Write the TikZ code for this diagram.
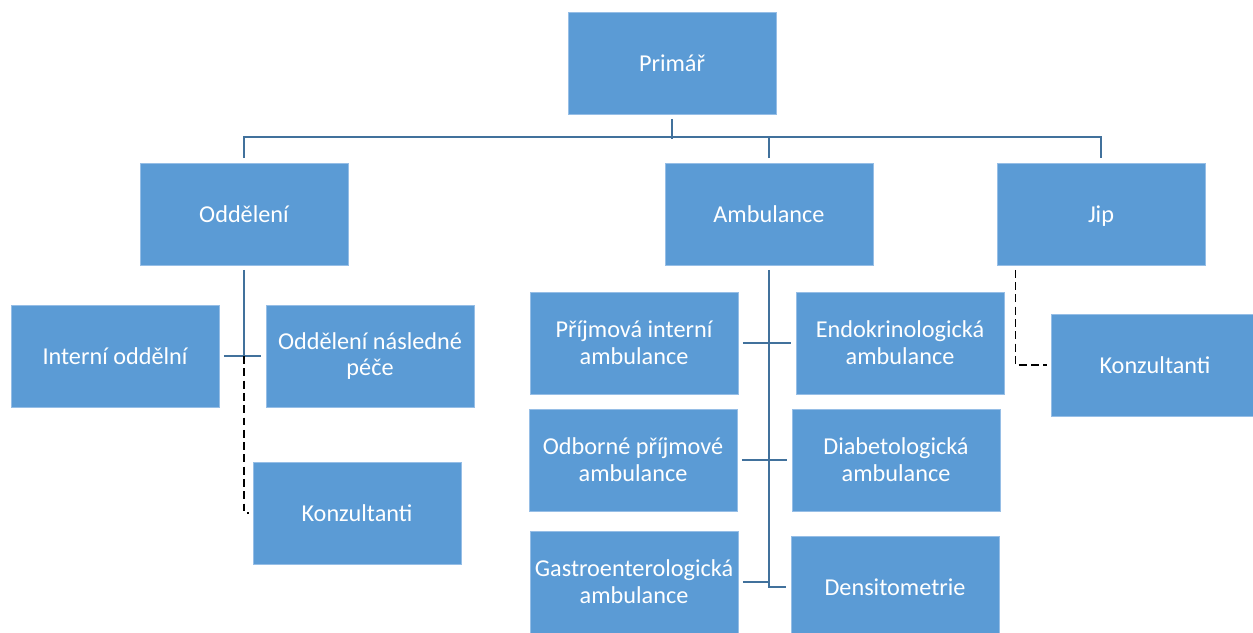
\documentclass[tikz,border=0pt]{standalone}
\usepackage{fontspec}
\setmainfont{Carlito}
\usetikzlibrary{arrows.meta,positioning}
\definecolor{boxfill}{RGB}{91,155,213}
\definecolor{boxline}{RGB}{150,190,230}
\definecolor{linkblue}{RGB}{65,113,156}

\begin{document}
\begin{tikzpicture}[x=0.02cm, y=-0.02cm,
  box/.style={draw=boxline, line width=0.5pt, fill=boxfill, text=white,
              minimum width=4.16cm, minimum height=2.04cm, align=center,
              inner sep=1pt, font=\fontsize{13.8}{15.3}\selectfont},
  link/.style={draw=linkblue, line width=1.6pt, shorten <=2.5pt, shorten >=2.5pt},
  dashlink/.style={draw=black, line width=1pt, dash pattern=on 4.5pt off 2.5pt,
                   shorten <=2.5pt, shorten >=2pt}
]
\useasboundingbox (0,0) rectangle (1253,632);

\node[box] (primar) at (672,63) {Primář};
\node[box] (oddel) at (244,214) {Oddělení};
\node[box] (ambul) at (769,214) {Ambulance};
\node[box] (jip) at (1101,214) {\raisebox{0pt}[\height][0pt]{Jip}\vphantom{ě}};

\node[box] (interni) at (115,356) {Interní oddělní};
\node[box] (nasled) at (370,356) {Oddělení následné\\péče};
\node[box] (konzA) at (357,513) {Konzultanti};

\node[box] (prijm) at (634,343) {Příjmová interní\\ambulance};
\node[box] (endo) at (900,343) {Endokrinologická\\ambulance};
\node[box] (odbor) at (633,460) {Odborné příjmové\\ambulance};
\node[box] (diab) at (896,460) {Diabetologická\\ambulance};
\node[box] (gastro) at (634,582) {Gastroenterologická\\ambulance};
\node[box] (denzit) at (895,587) {Densitometrie};

\node[box] (konzB) at (1155,365) {Konzultanti};

% top level
\coordinate (bus) at (672,137);
\draw[link, shorten >=-1pt] (primar.south) -- (bus);
\draw[link] (oddel.north) |- (bus) -| (jip.north);
\draw[link, shorten >=0pt] (ambul.north) -- (ambul.north |- bus);

% Oddeleni
\coordinate (odd-mid) at (oddel.south |- interni.east);
\draw[link, shorten >=0pt] (oddel.south) -- (odd-mid);
\draw[link] (interni.east) -- (nasled.west);
\draw[dashlink, shorten <=0pt] (odd-mid) |- (konzA.west);

% Ambulance
\draw[link] (ambul.south) |- (denzit.west);
\draw[link] (prijm.east) -- (endo.west);
\draw[link] (odbor.east) -- (diab.west);
\draw[link, shorten >=0pt] (gastro.east) -- (ambul.south |- gastro.east);

% Jip
\draw[dashlink] ([xshift=0.38cm]jip.south west) |- (konzB.west);
\end{tikzpicture}
\end{document}
